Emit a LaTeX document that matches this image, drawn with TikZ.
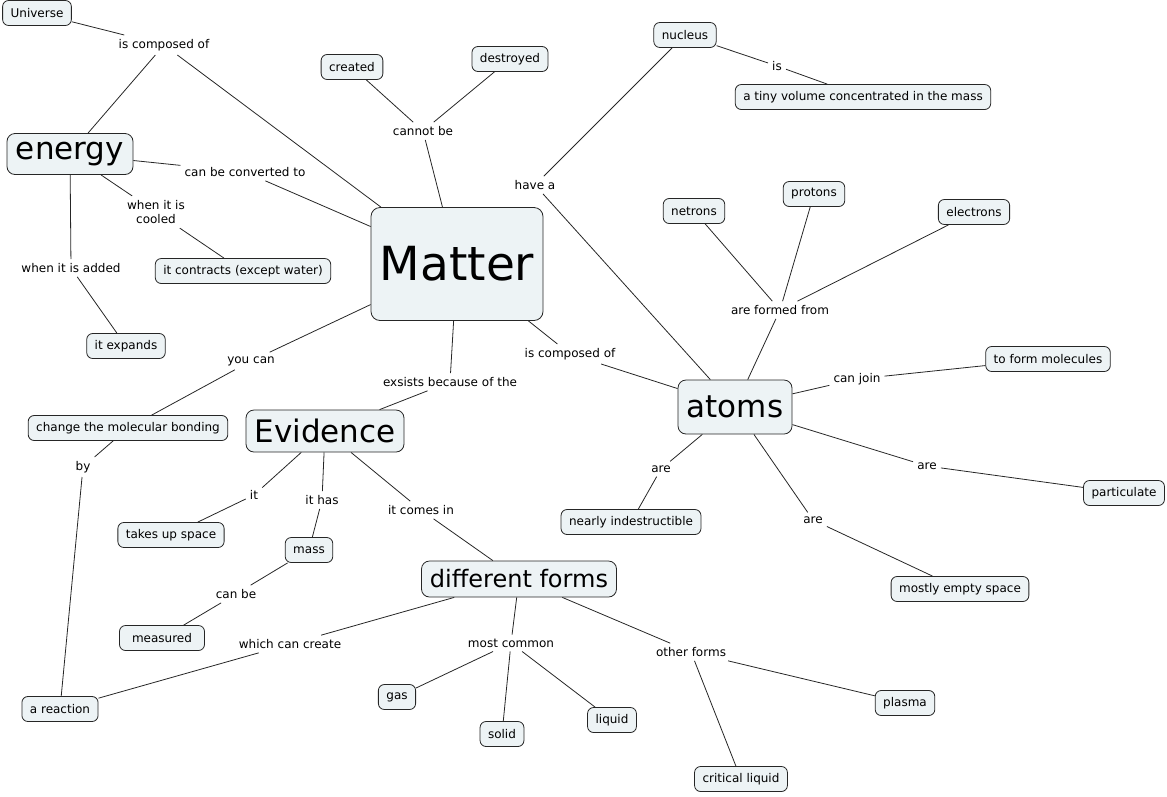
\documentclass[tikz,border=0pt]{standalone}
\usepackage{fontspec}
\setmainfont{DejaVu Sans}
\usetikzlibrary{positioning}
\definecolor{boxfill}{RGB}{237,243,245}

\begin{document}
\begin{tikzpicture}[x=1pt,y=-1pt, font=\fontsize{12}{14.5}\selectfont,
 box/.style={draw=black!85,line width=0.8pt,rounded corners=6pt,fill=boxfill,inner xsep=8pt,inner ysep=3pt,minimum height=25pt},
 big/.style={box,rounded corners=8pt,font=\fontsize{31}{36}\selectfont},
 lbl/.style={inner sep=4pt,align=center},
 link/.style={line width=0.8pt,black!85}]
\useasboundingbox (0,0) rectangle (1167,796);
% concepts
\node[box] (univ) at (37,13) {Universe};
\node[big,minimum width=126pt,minimum height=41pt] (energy) at (70,154) {energy};
\node[box] (created) at (352,67) {created};
\node[box] (destroyed) at (510,59) {destroyed};
\node[box] (nucleus) at (685,35) {nucleus};
\node[box] (tiny) at (863,97) {a tiny volume concentrated in the mass};
\node[box] (contracts) at (243,271) {it contracts (except water)};
\node[box] (expands) at (126,346) {it expands};
\node[big,rounded corners=9pt,font=\fontsize{47}{52}\selectfont,minimum width=172pt,minimum height=113pt] (matter) at (457,264) {Matter};
\node[box] (netrons) at (694,211) {netrons};
\node[box] (protons) at (814,194) {protons};
\node[box] (electrons) at (974,212) {electrons};
\node[box] (molecules) at (1048,359) {to form molecules};
\node[big,minimum width=114pt,minimum height=54pt] (atoms) at (735,407) {atoms};
\node[box] (bonding) at (128,428) {change the molecular bonding};
\node[big,minimum width=158pt,minimum height=42pt] (evidence) at (325,431) {Evidence};
\node[box] (space) at (171,535) {takes up space};
\node[box] (mass) at (309,550) {mass};
\node[box,minimum width=85pt] (measured) at (162,638) {measured};
\node[big,font=\fontsize{24}{28}\selectfont,minimum width=195pt,minimum height=36pt] (forms) at (519,579) {different forms};
\node[box] (gas) at (397,697) {gas};
\node[box] (solid) at (502,734) {solid};
\node[box] (liquid) at (612,720) {liquid};
\node[box] (plasma) at (905,703) {plasma};
\node[box] (critical) at (741,779) {critical liquid};
\node[box] (reaction) at (60,709) {a reaction};
\node[box] (indestr) at (631,522) {nearly indestructible};
\node[box] (empty) at (960,589) {mostly empty space};
\node[box] (particulate) at (1124,493) {particulate};
% linking phrases
\node[lbl] (composedU) at (164,45) {is composed of};
\node[lbl] (cannot) at (423,131) {cannot be};
\node[lbl] (is) at (777,66) {is};
\node[lbl] (havea) at (535,185) {have a};
\node[lbl] (conv) at (245,172) {can be converted to};
\node[lbl] (cooled) at (156,212) {when it is\\cooled};
\node[lbl] (added) at (71,268) {when it is added};
\node[lbl] (formed) at (780,310) {are formed from};
\node[lbl] (canjoin) at (857,379) {can join};
\node[lbl] (composed) at (570,354) {is composed of};
\node[lbl] (youcan) at (251,361) {you can};
\node[lbl] (exsists) at (450,382) {exsists because of the};
\node[lbl] (by) at (83,467) {by};
\node[lbl] (it) at (254,495) {it};
\node[lbl] (ithas) at (322,500) {it has};
\node[lbl] (comesin) at (421,510) {it comes in};
\node[lbl] (canbe) at (236,594) {can be};
\node[lbl] (create) at (290,644) {which can create};
\node[lbl] (common) at (511,643) {most common};
\node[lbl] (other) at (691,652) {other forms};
\node[lbl] (are1) at (661,469) {are};
\node[lbl] (are2) at (813,520) {are};
\node[lbl] (are3) at (927,466) {are};
% links
\draw[link] (univ)--(composedU); \draw[link] (composedU)--(energy); \draw[link] (composedU)--(matter);
\draw[link] (created)--(cannot); \draw[link] (destroyed)--(cannot); \draw[link] (cannot)--(matter);
\draw[link] (nucleus)--(is); \draw[link] (is)--(tiny);
\draw[link] (atoms)--(havea); \draw[link] (havea)--(nucleus);
\draw[link] (energy)--(conv); \draw[link] (conv)--(matter);
\draw[link] (energy)--(cooled); \draw[link] (cooled)--(contracts);
\draw[link] (energy)--(added); \draw[link] (added)--(expands);
\draw[link] (matter)--(youcan); \draw[link] (youcan)--(bonding);
\draw[link] (bonding)--(by); \draw[link] (by)--(reaction);
\draw[link] (matter)--(exsists); \draw[link] (exsists)--(evidence);
\draw[link] (matter)--(composed); \draw[link] (composed)--(atoms);
\draw[link] (atoms)--(formed); \draw[link] (formed)--(netrons);
\draw[link] (formed)--(protons); \draw[link] (formed)--(electrons);
\draw[link] (atoms)--(canjoin); \draw[link] (canjoin)--(molecules);
\draw[link] (atoms)--(are1); \draw[link] (are1)--(indestr);
\draw[link] (atoms)--(are2); \draw[link] (are2)--(empty);
\draw[link] (atoms)--(are3); \draw[link] (are3)--(particulate);
\draw[link] (evidence)--(it); \draw[link] (it)--(space);
\draw[link] (evidence)--(ithas); \draw[link] (ithas)--(mass);
\draw[link] (mass)--(canbe); \draw[link] (canbe)--(measured);
\draw[link] (evidence)--(comesin); \draw[link] (comesin)--(forms);
\draw[link] (forms)--(create); \draw[link] (create)--(reaction);
\draw[link] (forms)--(common); \draw[link] (common)--(gas);
\draw[link] (common)--(solid); \draw[link] (common)--(liquid);
\draw[link] (forms)--(other); \draw[link] (other)--(plasma); \draw[link] (other)--(critical);
\end{tikzpicture}
\end{document}
